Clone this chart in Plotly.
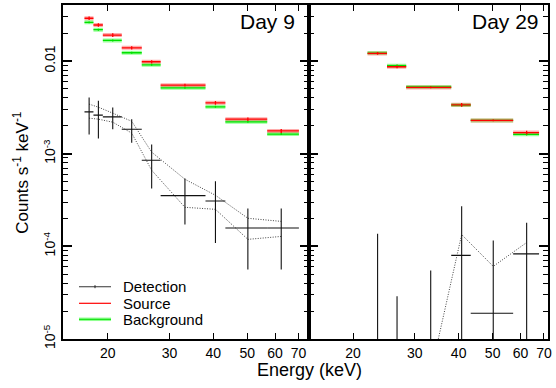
import math
import plotly.graph_objects as go

# ---------------- Day 9 ----------------
d9_lo = [17.16, 18.2, 19.36, 21.92, 25.0, 28.3, 38.0, 43.3, 57.0]
d9_hi = [18.2, 19.36, 21.92, 25.0, 28.3, 38.0, 43.3, 57.0, 70.2]
d9_mid = [17.69, 18.8, 20.66, 23.4, 26.68, 33.2, 40.57, 50.2, 62.5]
d9_src = [0.0290, 0.0245, 0.0191, 0.0139, 0.00983, 0.0055, 0.00354, 0.00236, 0.00176]
d9_src_err = [0.0013, 0.0011, 0.0009, 0.0006, 0.0004, 0.0002, 0.00017, 0.0001, 0.00009]
d9_bkg = [0.0262, 0.0218, 0.0167, 0.0123, 0.00912, 0.00514, 0.00321, 0.00221, 0.00163]
d9_bkg_err = [0.0006, 0.0005, 0.0004, 0.0003, 0.0002, 0.0001, 0.00008, 0.00005, 0.00004]
d9_det = [2.83e-3, 2.61e-3, 2.50e-3, 1.84e-3, 8.5e-4, 3.53e-4, 3.09e-4, 1.58e-4, 1.58e-4]
d9_det_lo = [1.61e-3, 1.46e-3, 1.84e-3, 1.31e-3, 4.2e-4, 1.72e-4, 1.09e-4, 5.64e-5, 5.64e-5]
d9_det_hi = [4.05e-3, 3.72e-3, 3.16e-3, 2.36e-3, 1.257e-3, 5.39e-4, 5.04e-4, 2.56e-4, 2.56e-4]
d9_upper = [3.43e-3, 3.18e-3, 2.74e-3, 2.24e-3, 1.04e-3, 5.30e-4, 3.56e-4, 2.01e-4, 1.86e-4]
d9_lower = [2.42e-3, 2.36e-3, 2.19e-3, 1.67e-3, 6.63e-4, 2.64e-4, 2.51e-4, 1.19e-4, 1.28e-4]

# ---------------- Day 29 ----------------
d29_lo = [22.0, 25.0, 28.35, 38.1, 43.3, 57.2]
d29_hi = [25.0, 28.35, 38.1, 43.3, 57.2, 67.8]
d29_mid = [23.5, 26.7, 33.3, 40.8, 50.2, 62.5]
d29_src = [0.0121, 0.00868, 0.0052, 0.00337, 0.00229, 0.00169]
d29_src_err = [0.0004, 0.0003, 0.0001, 0.00015, 0.00005, 0.00008]
d29_bkg = [0.0122, 0.0089, 0.00525, 0.00335, 0.00229, 0.00162]
d29_bkg_err = [0.0003, 0.0003, 0.0001, 0.0001, 0.00004, 0.00005]
d29_det = [None, None, None, 8.0e-5, 1.9e-5, 8.3e-5]
d29_det_lo = [1e-6, 1e-6, 1e-6, 1e-6, 1e-6, 1e-6]
d29_det_hi = [1.37e-4, 2.90e-5, 5.5e-5, 2.71e-4, 1.16e-4, 1.80e-4]
d29_curve_x = [33.3, 40.8, 50.2, 62.5]
d29_curve = [4.3e-6, 1.34e-4, 6.08e-5, 1.10e-4]

x_ticks = [20, 30, 40, 50, 60, 70]
y_ticks = [1e-5, 1e-4, 1e-3, 1e-2]
y_ticktext = ["10<sup>-5</sup>", "10<sup>-4</sup>", "10<sup>-3</sup>", "0.01"]
legend_names = ["Detection", "Source", "Background"]

FONT = "Liberation Sans, Arial, sans-serif"


def hpath(lo, hi, val):
    xs, ys = [], []
    for a, b, v in zip(lo, hi, val):
        if v is None:
            continue
        xs += [a, b, None]
        ys += [v, v, None]
    return xs, ys


def errpath(lo, hi, mid, val, elo, ehi):
    xs, ys = hpath(lo, hi, val)
    for m, l, h in zip(mid, elo, ehi):
        xs += [m, m, None]
        ys += [l, h, None]
    return xs, ys


fig = go.Figure()


def add_panel(xa, ya, lo, hi, mid, src, src_err, bkg, bkg_err, det, det_lo, det_hi, curves):
    gx, gy = hpath(lo, hi, bkg)
    fig.add_trace(go.Scatter(x=gx, y=gy, mode="lines", xaxis=xa, yaxis=ya,
                             line=dict(color="rgba(70,255,70,0.55)", width=4),
                             showlegend=False, hoverinfo="skip"))
    bx, by = hpath(lo, hi, src)
    fig.add_trace(go.Scatter(x=bx, y=by, mode="lines", xaxis=xa, yaxis=ya,
                             line=dict(color="rgba(255,70,70,0.45)", width=4),
                             showlegend=False, hoverinfo="skip"))
    gx2, gy2 = errpath(lo, hi, mid, bkg, [s - e for s, e in zip(bkg, bkg_err)],
                       [s + e for s, e in zip(bkg, bkg_err)])
    fig.add_trace(go.Scatter(x=gx2, y=gy2, mode="lines", xaxis=xa, yaxis=ya,
                             line=dict(color="#00e000", width=1.3),
                             name="Background", showlegend=False))
    rx, ry = errpath(lo, hi, mid, src, [s - e for s, e in zip(src, src_err)],
                     [s + e for s, e in zip(src, src_err)])
    fig.add_trace(go.Scatter(x=rx, y=ry, mode="lines", xaxis=xa, yaxis=ya,
                             line=dict(color="#ff0000", width=1.3),
                             name="Source", showlegend=False))
    for cx, cy in curves:
        fig.add_trace(go.Scatter(x=cx, y=cy, mode="lines", xaxis=xa, yaxis=ya,
                                 line=dict(color="#444444", width=1, dash="1px,1.5px"),
                                 showlegend=False, hoverinfo="skip"))
    dx, dy = errpath(lo, hi, mid, det, det_lo, det_hi)
    fig.add_trace(go.Scatter(x=dx, y=dy, mode="lines", xaxis=xa, yaxis=ya,
                             line=dict(color="#111111", width=1.1),
                             name="Detection", showlegend=False))


add_panel("x", "y", d9_lo, d9_hi, d9_mid, d9_src, d9_src_err, d9_bkg, d9_bkg_err,
          d9_det, d9_det_lo, d9_det_hi,
          [(d9_mid, d9_upper), (d9_mid, d9_lower)])
add_panel("x2", "y2", d29_lo, d29_hi, d29_mid, d29_src, d29_src_err, d29_bkg, d29_bkg_err,
          d29_det, d29_det_lo, d29_det_hi,
          [(d29_curve_x, d29_curve)])

minor_y = [m * 10.0 ** e for e in range(-5, -1) for m in range(2, 10) if m * 10.0 ** e < 0.0405]

xcommon = dict(type="log", tickvals=x_ticks, ticktext=[str(t) for t in x_ticks],
               ticks="inside", ticklen=6, tickwidth=1.2, tickcolor="black",
               showline=True, linewidth=2, linecolor="black", mirror="ticks",
               showgrid=False, zeroline=False,
               tickfont=dict(family=FONT, size=14, color="black"))
ycommon = dict(type="log", range=[-5, math.log10(0.0403)], tickvals=y_ticks, ticktext=y_ticktext,
               ticks="inside", ticklen=9, tickwidth=1.5, tickcolor="black",
               minor=dict(tickvals=minor_y, ticks="inside", ticklen=5, tickwidth=1.2, tickcolor="black"),
               showline=True, linewidth=2, linecolor="black", mirror="ticks",
               showgrid=False, zeroline=False,
               tickfont=dict(family=FONT, size=14, color="black"))

# ---- hand-drawn legend (paper coordinates) ----
PLOT_L, PLOT_W, PLOT_B, PLOT_H = 63, 485, 339, 334
def px(xp):
    return (xp - PLOT_L) / PLOT_W
def py(yp):
    return (PLOT_B - yp) / PLOT_H

row_y = [286.7, 303.3, 319.3]
shapes = []
annotations = []
lx0, lx1, lxm, ltext = px(79), px(111), px(95), px(121)
shapes.append(dict(type="line", xref="paper", yref="paper", x0=lx0, x1=lx1, y0=py(row_y[0]), y1=py(row_y[0]),
                   line=dict(color="#555555", width=1.2)))
shapes.append(dict(type="line", xref="paper", yref="paper", x0=lxm, x1=lxm, y0=py(row_y[0] - 1.5), y1=py(row_y[0] + 1.5),
                   line=dict(color="#222222", width=1)))
shapes.append(dict(type="line", xref="paper", yref="paper", x0=lx0, x1=lx1, y0=py(row_y[1]), y1=py(row_y[1]),
                   line=dict(color="#ff0000", width=1.2)))
shapes.append(dict(type="line", xref="paper", yref="paper", x0=lx0, x1=lx1, y0=py(row_y[2]), y1=py(row_y[2]),
                   line=dict(color="rgba(70,255,70,0.6)", width=3.5)))
shapes.append(dict(type="line", xref="paper", yref="paper", x0=lx0, x1=lx1, y0=py(row_y[2]), y1=py(row_y[2]),
                   line=dict(color="#00dd00", width=1)))
for name, ry in zip(legend_names, row_y):
    annotations.append(dict(text=name, xref="paper", yref="paper", x=ltext, y=py(ry),
                            xanchor="left", yanchor="middle", showarrow=False,
                            font=dict(family=FONT, size=15, color="black")))

annotations += [
    dict(text="Day 9", xref="x domain", yref="y domain", x=0.95, y=0.95,
         xanchor="right", yanchor="middle", showarrow=False,
         font=dict(family=FONT, size=21, color="black")),
    dict(text="Day 29", xref="x2 domain", yref="y2 domain", x=0.972, y=0.95,
         xanchor="right", yanchor="middle", showarrow=False,
         font=dict(family=FONT, size=21, color="black")),
    dict(text="Energy (keV)", xref="paper", yref="paper", x=0.509, y=-0.094,
         xanchor="center", yanchor="middle", showarrow=False,
         font=dict(family=FONT, size=18, color="black")),
    dict(text="Counts s<sup>-1</sup> keV<sup>-1</sup>", xref="paper", yref="paper",
         x=-0.087, y=0.5, xanchor="center", yanchor="middle", textangle=-90,
         showarrow=False, font=dict(family=FONT, size=17, color="black")),
]

split = 0.508
fig.update_layout(
    width=556, height=388,
    margin=dict(l=63, r=8, t=5, b=49, autoexpand=False),
    paper_bgcolor="white", plot_bgcolor="white",
    font=dict(family=FONT, color="black"),
    xaxis=dict(domain=[0, split], range=[math.log10(14.9), math.log10(75.2)], anchor="y", **xcommon),
    xaxis2=dict(domain=[split, 1], range=[math.log10(15.02), math.log10(71.9)], anchor="y2", **xcommon),
    yaxis=dict(anchor="x", tickangle=-90, **ycommon),
    yaxis2=dict(anchor="x2", matches="y", showticklabels=False, **ycommon),
    showlegend=False,
    shapes=shapes,
    annotations=annotations,
)

fig.write_html("out.html", config={"displayModeBar": False},
               post_script="document.body.style.margin='0';document.body.style.overflow='hidden';")
